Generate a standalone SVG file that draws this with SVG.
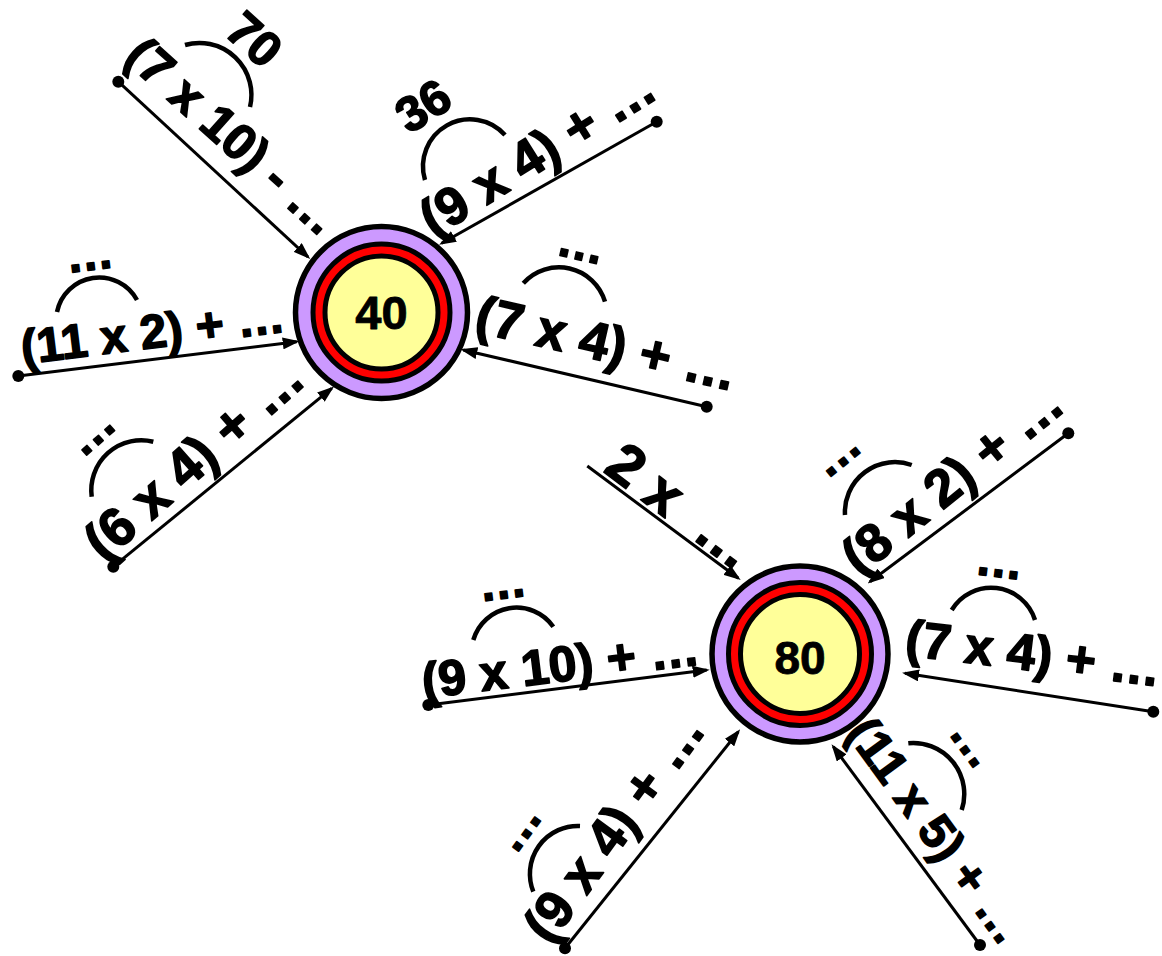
<svg xmlns="http://www.w3.org/2000/svg" width="1162" height="956" viewBox="0 0 1162 956">
<style>
text{font-family:"Liberation Sans",Arial,sans-serif;font-weight:bold;fill:#000;stroke:#000;stroke-width:1.6;stroke-linejoin:round}
.num{stroke-width:0.8}
.ln{stroke:#000;stroke-width:3;fill:none;marker-end:url(#ah)}
.arc{stroke:#000;stroke-width:4.5;fill:none}
.dot{fill:#000}
.ring1{fill:#CC99FF;stroke:#000;stroke-width:5.5}
.ring2{fill:#FF0000;stroke:#000;stroke-width:5}
.ring3{fill:#FFFF99;stroke:#000;stroke-width:5}
.up{text-anchor:middle}
</style>
<defs>
<marker id="ah" markerWidth="17" markerHeight="12" refX="14" refY="6" orient="auto" markerUnits="userSpaceOnUse">
<path d="M0,0 L17,6 L0,12 Z" fill="#000"/>
</marker>
</defs>
<rect width="1162" height="956" fill="#fff"/>

<g id="connectors">
<line class="ln" x1="118.3" y1="81.7" x2="308" y2="257"/>
<line class="ln" x1="656.7" y1="121.7" x2="441.7" y2="243.3"/>
<line class="ln" x1="18.3" y1="376" x2="296.7" y2="341.7"/>
<line class="ln" x1="706.7" y1="406.7" x2="463.3" y2="350"/>
<line class="ln" x1="113.3" y1="566.7" x2="331.7" y2="388.3"/>
<line class="ln" x1="587.3" y1="466" x2="738.3" y2="578.3"/>
<line class="ln" x1="1068.3" y1="433.3" x2="870" y2="581.7"/>
<line class="ln" x1="428.3" y1="705" x2="706.7" y2="670"/>
<line class="ln" x1="1153.3" y1="711.7" x2="905" y2="673.3"/>
<line class="ln" x1="565" y1="948.3" x2="738.3" y2="731.7"/>
<line class="ln" x1="980" y1="945" x2="833.3" y2="746.7"/>
<circle class="dot" cx="118.3" cy="81.7" r="6"/>
<circle class="dot" cx="656.7" cy="121.7" r="6"/>
<circle class="dot" cx="18.3" cy="376" r="6"/>
<circle class="dot" cx="706.7" cy="406.7" r="6"/>
<circle class="dot" cx="113.3" cy="566.7" r="6"/>
<circle class="dot" cx="1068.3" cy="433.3" r="6"/>
<circle class="dot" cx="428.3" cy="705" r="6"/>
<circle class="dot" cx="1153.3" cy="711.7" r="6"/>
<circle class="dot" cx="565" cy="948.3" r="6"/>
<circle class="dot" cx="980" cy="945" r="6"/>
</g>

<g id="labels">
<g id="label-a">
<text transform="translate(122.6,59.7) rotate(42)" font-size="50">(7 x 10) - …</text>
<path class="arc" d="M185,45 A52,52 0 0 1 250,107"/>
<text class="up" transform="translate(243,52) rotate(42)" font-size="49">70</text>
</g>
<g id="label-b">
<text transform="translate(434,238.3) rotate(-32)" font-size="53">(9 x 4) + …</text>
<path class="arc" d="M425,180 A47,47 0 0 1 505,135"/>
<text class="up" transform="translate(432,120) rotate(-32)" font-size="49">36</text>
</g>
<g id="label-c">
<text transform="translate(22.9,364.1) rotate(-7)" font-size="48">(11 x 2) + …</text>
<path class="arc" d="M57,312 A43,43 0 0 1 137,300"/>
<text class="up" transform="translate(91.2,270) rotate(-7)" font-size="48">…</text>
</g>
<g id="label-d">
<text transform="translate(473,331.2) rotate(13)" font-size="53">(7 x 4) + …</text>
<path class="arc" d="M523.3,283.3 A48,48 0 0 1 605,301.7"/>
<text class="up" transform="translate(578.2,259.6) rotate(13)" font-size="48">…</text>
</g>
<g id="label-e">
<text transform="translate(104.2,562.9) rotate(-41.5)" font-size="54">(6 x 4) + …</text>
<path class="arc" d="M91.7,496.7 A50,50 0 0 1 153.3,441.7"/>
<text class="up" transform="translate(100.8,442.8) rotate(-41.5)" font-size="48">…</text>
</g>
<g id="label-f">
<text transform="translate(602.2,470.9) rotate(37)" font-size="57">2 x <tspan dx="16">…</tspan></text>
</g>
<g id="label-g">
<text transform="translate(859.9,577.2) rotate(-39)" font-size="53">(8 x 2) + …</text>
<path class="arc" d="M845,515 A50,50 0 0 1 911.7,465"/>
<text class="up" transform="translate(845.6,464.6) rotate(-39)" font-size="48">…</text>
</g>
<g id="label-h">
<text transform="translate(423.9,698.4) rotate(-7)" font-size="50">(9 x 10) + …</text>
<path class="arc" d="M473.3,640 A45,45 0 0 1 553.3,626.7"/>
<text class="up" transform="translate(504.4,598.5) rotate(-7)" font-size="48">…</text>
</g>
<g id="label-i">
<text transform="translate(904,655.1) rotate(7)" font-size="51">(7 x 4) + …</text>
<path class="arc" d="M951.7,610 A46,46 0 0 1 1035,620"/>
<text class="up" transform="translate(997.8,577) rotate(7)" font-size="48">…</text>
</g>
<g id="label-j">
<text transform="translate(550.2,946.1) rotate(-54)" font-size="53">(9 x 4) + …</text>
<path class="arc" d="M533.3,891.7 A48,48 0 0 1 580,826"/>
<text class="up" transform="translate(529.7,836.2) rotate(-54)" font-size="48">…</text>
</g>
<g id="label-k">
<text transform="translate(845.2,733) rotate(54)" font-size="48">(11 x 5) + …</text>
<path class="arc" d="M908.3,743.3 A51,51 0 0 1 961.7,810"/>
<text class="up" transform="translate(962.2,752.5) rotate(54)" font-size="48">…</text>
</g>
</g>

<g id="node-40">
<circle class="ring1" cx="381.5" cy="312.5" r="86"/>
<circle class="ring2" cx="381.5" cy="312.5" r="68.5"/>
<circle class="ring3" cx="381.5" cy="312.5" r="56.5"/>
<text class="num" x="381.5" y="328.5" font-size="47" text-anchor="middle">40</text>
</g>
<g id="node-80">
<circle class="ring1" cx="800" cy="654" r="88"/>
<circle class="ring2" cx="800" cy="654" r="71.5"/>
<circle class="ring3" cx="800" cy="654" r="59.5"/>
<text class="num" x="800" y="673.5" font-size="46" text-anchor="middle">80</text>
</g>
</svg>
